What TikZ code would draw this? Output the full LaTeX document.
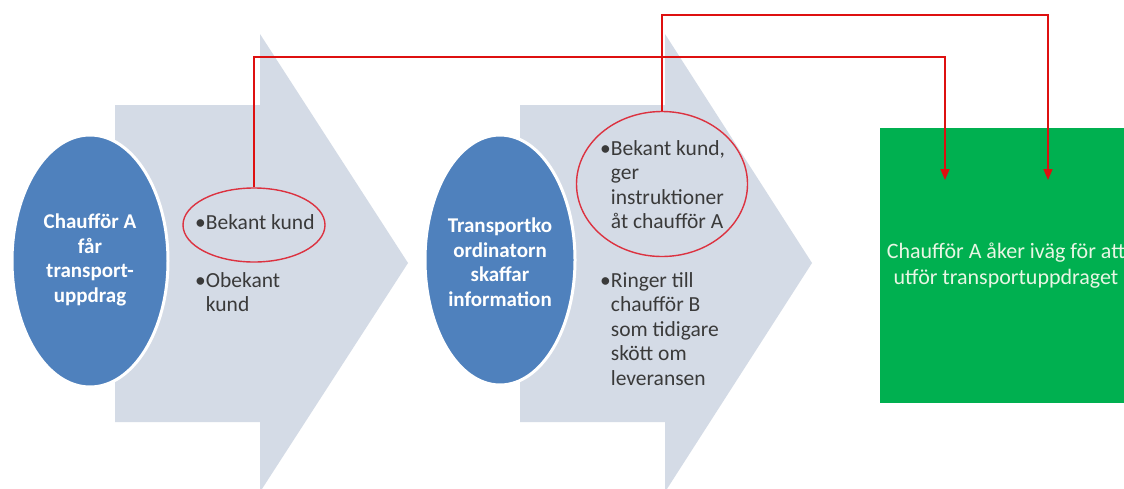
\documentclass[tikz,border=0pt]{standalone}
\usepackage{fontspec}
\setmainfont{Carlito}
\usetikzlibrary{shapes.geometric,arrows.meta}
\definecolor{arrowgray}{RGB}{212,219,230}
\definecolor{blueell}{RGB}{79,129,189}
\definecolor{greenbox}{RGB}{0,176,80}
\definecolor{redline}{RGB}{222,16,16}
\definecolor{redring}{RGB}{220,50,64}
\definecolor{bodytext}{RGB}{58,58,58}
\definecolor{greentext}{RGB}{232,246,228}
\tikzset{
  bigarrow/.style={fill=arrowgray,draw=none},
  blueoval/.style={ellipse,fill=blueell,draw=white,line width=3pt,inner sep=0pt},
  ovaltext/.style={text=white,font=\fontsize{21}{24.5}\selectfont\bfseries,align=center,inner sep=0pt},
  redoval/.style={ellipse,draw=redring,line width=1.4pt,fill=none,inner sep=0pt},
  bullettext/.style={text=bodytext,font=\fontsize{21.5}{24.5}\selectfont,inner sep=0pt,anchor=base west},
  greenrect/.style={rectangle,fill=greenbox,draw=none,text=greentext,
    font=\fontsize{22}{25.5}\selectfont,align=center,inner sep=0pt},
  connector/.style={draw=redline,line width=1.6pt,-{Triangle[width=9pt,length=11pt]}},
}
\newcommand{\bitem}[1]{\begin{tabular}[t]{@{}l@{}l@{}}#1\end{tabular}}
\begin{document}
\begin{tikzpicture}[x=1pt,y=-1pt]
\useasboundingbox (0,0) rectangle (1124,488);
\clip (0,0) rectangle (1124,488);
\fill[white] (0,0) rectangle (1124,488);
% big arrows
\path[bigarrow] (115,105) -- (260,105) -- (260,34) -- (408,263) -- (260,492) -- (260,422) -- (115,422) -- cycle;
\path[bigarrow] (520,105) -- (665,105) -- (665,34) -- (812,263) -- (665,492) -- (665,422) -- (520,422) -- cycle;
% blue ovals
\node[blueoval,minimum width=156pt,minimum height=252pt] (o1) at (90,261) {};
\node[ovaltext] (o1t) at (90,260) {Chaufför A\\får\\transport-\\uppdrag};
\node[blueoval,minimum width=150pt,minimum height=250pt] (o2) at (500,260) {};
\node[ovaltext] (o2t) at (500,262) {Transportko\\ordinatorn\\skaffar\\information};
% bullet texts
\node[bullettext] (b1) at (195,229) {\bitem{•&Bekant kund}};
\node[bullettext] (b2) at (195,287) {\bitem{•&Obekant\\&kund}};
\node[bullettext] (b3) at (600,155) {\bitem{•&Bekant kund,\\&ger\\&instruktioner\\&åt chaufför A}};
\node[bullettext] (b4) at (600,287) {\bitem{•&Ringer till\\&chaufför B\\&som tidigare\\&skött om\\&leveransen}};
% green box
\node[greenrect,minimum width=253pt,minimum height=275pt] (g) at (1006,265.5) {Chaufför A åker iväg för att\\utför transportuppdraget};
% red ovals
\node[redoval,minimum width=142pt,minimum height=74pt] (r1) at (254,225) {};
\node[redoval,minimum width=171pt,minimum height=145pt] (r2) at (662,184) {};
% connectors
\coordinate (k1) at (945,57);
\coordinate (t1) at (945,180);
\coordinate (k2) at (1048,15);
\coordinate (t2) at (1048,180);
\draw[connector] (r1.north) |- (k1) -- (t1);
\draw[connector] (r2.north) |- (k2) -- (t2);
\end{tikzpicture}
\end{document}
